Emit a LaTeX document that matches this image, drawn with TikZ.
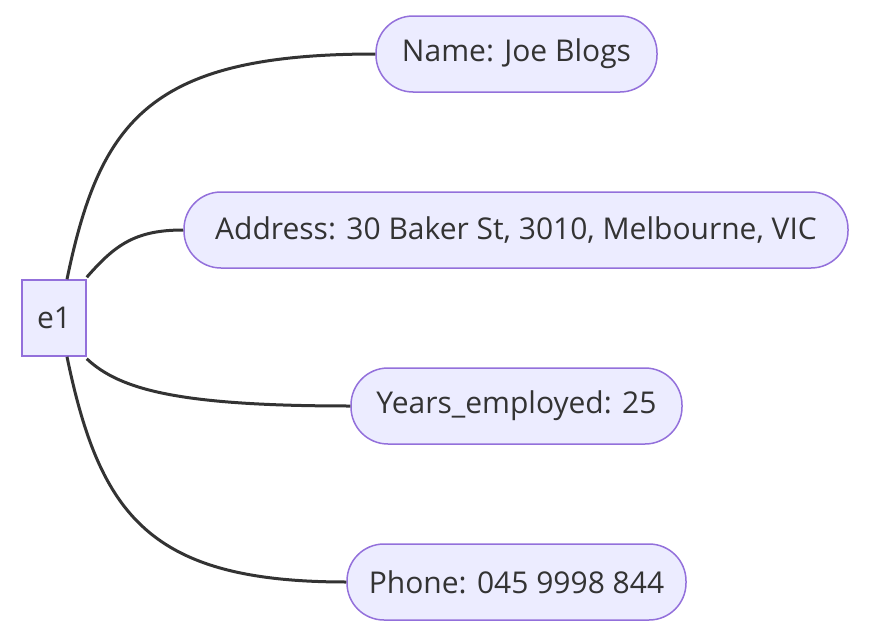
\documentclass[tikz,border=0pt]{standalone}
\usepackage{fontspec}
\setmainfont{Open Sans}
\definecolor{boxfill}{HTML}{ECECFF}
\definecolor{boxline}{HTML}{9370DB}
\definecolor{ink}{HTML}{333333}
\begin{document}
\begin{tikzpicture}[x=1pt,y=-1pt,
  entity/.style={draw=boxline, fill=boxfill, line width=1.5pt, minimum width=64pt, minimum height=76pt, inner sep=0pt, text=ink, font=\fontsize{30}{36}\selectfont},
  field/.style={draw=boxline, fill=boxfill, line width=1.5pt, rounded corners=37pt, minimum height=76pt, inner sep=0pt, text=ink, font=\fontsize{30}{36}\selectfont},
  link/.style={draw=ink, line width=3pt}]
\useasboundingbox (0,0) rectangle (871,637);
\node[entity] (e1) at (54,318) {e1};
\node[field, minimum width=281pt] (name) at (516.5,54) {Name: Joe Blogs};
\node[field, minimum width=664pt] (addr) at (516,230) {Address: 30 Baker St, 3010, Melbourne, VIC};
\node[field, minimum width=331pt] (years) at (516.5,406) {Years\_employed: 25};
\node[field, minimum width=339pt] (phone) at (516.5,582) {Phone: 045 9998 844};
% attribute lines
\draw[link] ([xshift=13pt]e1.north) .. controls (100,120) and (150,54) .. (name.west);
\draw[link] ([yshift=2pt]e1.north east) .. controls (115,245) and (135,230) .. (addr.west);
\draw[link] ([yshift=-2pt]e1.south east) .. controls (120,390) and (180,406) .. (years.west);
\draw[link] ([xshift=13pt]e1.south) .. controls (100,516) and (150,582) .. (phone.west);
\end{tikzpicture}
\end{document}
